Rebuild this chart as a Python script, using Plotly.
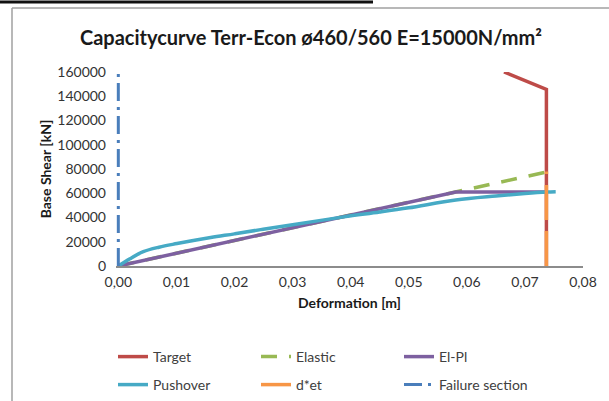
import plotly.graph_objects as go

# ---------------- data ----------------
title_text = "Capacitycurve Terr-Econ ø460/560 E=15000N/mm²"

target_x = [0.0664, 0.0737, 0.0737]
target_y = [160000, 145700, 0]

elastic_x = [0.0, 0.0737]
elastic_y = [0, 77500]

elpl_x = [0.0, 0.0581, 0.0737]
elpl_y = [0, 61000, 61000]

push_x = [0.0, 0.002, 0.0043, 0.007, 0.0101, 0.0159, 0.02, 0.0245, 0.03, 0.0388,
          0.045, 0.05, 0.0581, 0.065, 0.07, 0.0737, 0.0753]
push_y = [0, 6000, 11800, 15500, 18500, 23500, 26500, 30000, 34000, 40500,
          44500, 48000, 54500, 57800, 59800, 61000, 61300]

det_x = [0.0737, 0.0737]
det_y = [0, 78000]

fail_x = [0.0, 0.0]
fail_y = [0, 160000]

x_tickvals = [0.0, 0.01, 0.02, 0.03, 0.04, 0.05, 0.06, 0.07, 0.08]
x_ticktext = ["0,00", "0,01", "0,02", "0,03", "0,04", "0,05", "0,06", "0,07", "0,08"]
y_tickvals = [0, 20000, 40000, 60000, 80000, 100000, 120000, 140000, 160000]
y_ticktext = ["0", "20000", "40000", "60000", "80000", "100000", "120000", "140000", "160000"]

# ---------------- figure ----------------
FONT = "Lato"
W, H = 609, 401
L, R, T, B = 116, 26, 72, 135
pw, ph = W - L - R, H - T - B
XMIN = -0.0004


def px2x(px):
    return (px - L) / pw


def py2y(py):
    return (H - B - py) / ph


fig = go.Figure()
fig.add_trace(go.Scatter(x=target_x, y=target_y, mode="lines", name="Target",
                         line=dict(color="#be4b48", width=3.5), legend="legend"))
fig.add_trace(go.Scatter(x=elastic_x, y=elastic_y, mode="lines", name="Elastic",
                         line=dict(color="#98b954", width=3.5, dash="16px,12px"), legend="legend"))
fig.add_trace(go.Scatter(x=elpl_x, y=elpl_y, mode="lines", name="El-Pl",
                         line=dict(color="#7d60a0", width=3.5), legend="legend"))
fig.add_trace(go.Scatter(x=push_x, y=push_y, mode="lines", name="Pushover", line_shape="spline",
                         line=dict(color="#46aac5", width=3.5), legend="legend2"))
fig.add_trace(go.Scatter(x=det_x, y=det_y, mode="lines", name="d*et",
                         line=dict(color="#f79646", width=3.5, dash="35px,11px"), legend="legend2"))
fig.add_trace(go.Scatter(x=fail_x, y=fail_y, mode="lines", name="Failure section",
                         line=dict(color="#4a7ebb", width=3, dash="18px,6px,3px,6px"), legend="legend2"))

legend_common = dict(orientation="h", xanchor="left", yanchor="middle",
                     entrywidth=98, entrywidthmode="pixels",
                     font=dict(family=FONT, size=14, color="#404040"),
                     bgcolor="rgba(0,0,0,0)", borderwidth=0, traceorder="normal")

fig.update_layout(
    width=W, height=H,
    margin=dict(l=L, r=R, t=T, b=B, pad=0, autoexpand=False),
    paper_bgcolor="white", plot_bgcolor="white",
    title=dict(text="<b>" + title_text + "</b>", x=311 / W, xanchor="center", xref="container",
               y=1 - 38 / H, yanchor="middle",
               font=dict(family=FONT, size=20, color="#1a1a1a")),
    xaxis=dict(range=[XMIN, 0.08], tickvals=x_tickvals, ticktext=x_ticktext, automargin=False,
               showgrid=False, zeroline=False, showline=True, linecolor="#8c8c8c", linewidth=1.5,
               ticks="", ticklabelstandoff=2, tickfont=dict(family=FONT, size=14, color="#333333"),
               title=dict(text="<b>Deformation [m]</b>", standoff=10,
                          font=dict(family=FONT, size=14, color="#1a1a1a"))),
    yaxis=dict(range=[0, 160000], tickvals=y_tickvals, ticktext=y_ticktext, automargin=False,
               showgrid=False, zeroline=False, showline=False, ticks="",
               ticklabelstandoff=9, tickfont=dict(family=FONT, size=14, color="#333333"),
               title=dict(text="<b>Base Shear [kN]</b>", standoff=2,
                          font=dict(family=FONT, size=14, color="#1a1a1a"))),
    legend=dict(x=px2x(113), y=py2y(357), **legend_common),
    legend2=dict(x=px2x(113), y=py2y(385), **legend_common),
    showlegend=True,
    shapes=[
        dict(type="line", xref="paper", yref="paper", x0=px2x(0), x1=px2x(373),
             y0=py2y(2), y1=py2y(2), line=dict(color="#111111", width=3)),
        dict(type="line", xref="paper", yref="paper", x0=px2x(12), x1=px2x(609),
             y0=py2y(8), y1=py2y(8), line=dict(color="#a0a0a0", width=1.5)),
        dict(type="line", xref="paper", yref="paper", x0=px2x(12), x1=px2x(12),
             y0=py2y(8), y1=py2y(401), line=dict(color="#a0a0a0", width=1.5)),
    ],
)

fig.write_html("out.html", config={"displayModeBar": False},
               post_script="document.body.style.margin='0';")
